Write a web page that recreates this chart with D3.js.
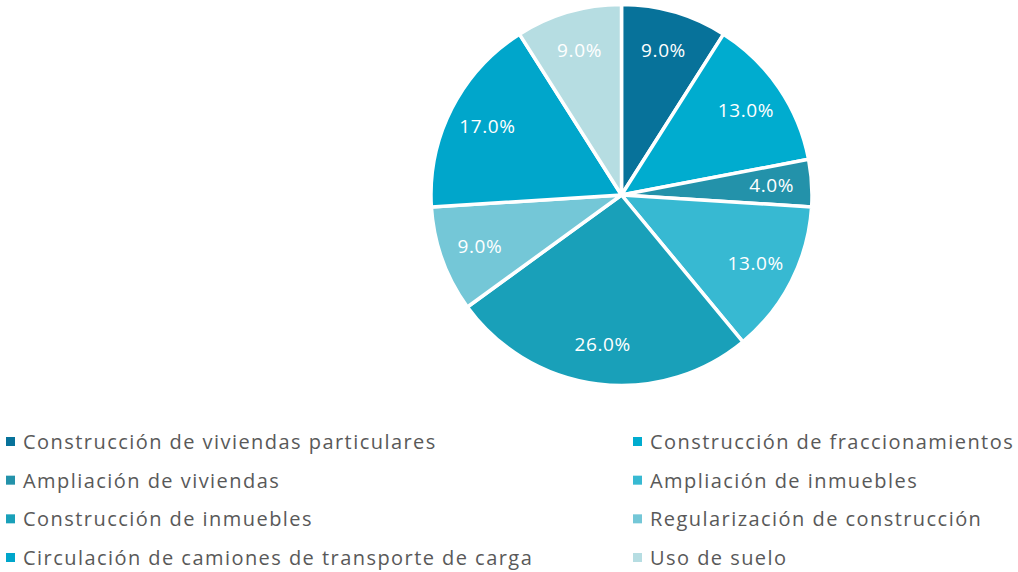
<!DOCTYPE html>
<html>
<head>
<meta charset="utf-8">
<script src="https://cdn.jsdelivr.net/npm/d3@7"></script>
<style>
  html, body { margin: 0; padding: 0; background: #ffffff; }
  svg { display: block; }
</style>
</head>
<body>
<svg id="chart" width="1018" height="572"></svg>
<script>
// Trámites por tipo (porcentaje)
const categories = [
  "Construcción de viviendas particulares",
  "Construcción de fraccionamientos",
  "Ampliación de viviendas",
  "Ampliación de inmuebles",
  "Construcción de inmuebles",
  "Regularización de construcción",
  "Circulación de camiones de transporte de carga",
  "Uso de suelo"
];
const values = [9, 13, 4, 13, 26, 9, 17, 9];
const colors = ["#07729a", "#00accf", "#2392aa", "#37b9d2", "#19a0b9", "#74c7d7", "#00a6cb", "#b6dde2"];

const svg = d3.select("#chart");
const cx = 621.5, cy = 195, R = 190.5;
const fontFamily = "'Open Sans', 'Noto Sans', sans-serif";

const color = d3.scaleOrdinal().domain(categories).range(colors);

const pie = d3.pie().sort(null).value(d => d.value);
const data = categories.map((c, i) => ({ name: c, value: values[i] }));
const arcs = pie(data);

const arc = d3.arc().innerRadius(0).outerRadius(R);
const labelArc = d3.arc().innerRadius(R * 0.79).outerRadius(R * 0.79);

const g = svg.append("g").attr("transform", `translate(${cx},${cy})`);

g.selectAll("path.slice")
  .data(arcs)
  .join("path")
  .attr("class", "slice")
  .attr("d", arc)
  .attr("fill", d => color(d.data.name))
  .attr("stroke", "#ffffff")
  .attr("stroke-width", 3.5)
  .attr("stroke-linejoin", "round");

const total = d3.sum(values);
g.selectAll("text.pct")
  .data(arcs)
  .join("text")
  .attr("class", "pct")
  .attr("transform", d => `translate(${labelArc.centroid(d)})`)
  .attr("text-anchor", "middle")
  .attr("dy", "0.35em")
  .attr("fill", "#ffffff")
  .attr("font-family", fontFamily)
  .attr("font-size", 19)
  .attr("letter-spacing", 0.6)
  .text(d => d3.format(".1f")(d.data.value / total * 100) + "%");

// Legend: two columns, four rows
const legendX = [6, 633];
const legendY = d3.scalePoint().domain(d3.range(4)).range([442, 558]);

const legend = svg.append("g")
  .selectAll("g.item")
  .data(data)
  .join("g")
  .attr("class", "item")
  .attr("transform", (d, i) => `translate(${legendX[i % 2]},${legendY(Math.floor(i / 2))})`);

legend.append("rect")
  .attr("x", 0)
  .attr("y", -5)
  .attr("width", 9)
  .attr("height", 9)
  .attr("fill", d => color(d.name));

legend.append("text")
  .attr("x", 17)
  .attr("dy", "0.35em")
  .attr("fill", "#595959")
  .attr("font-family", fontFamily)
  .attr("font-size", 20)
  .attr("letter-spacing", 1.45)
  .text(d => d.name);
</script>
</body>
</html>
